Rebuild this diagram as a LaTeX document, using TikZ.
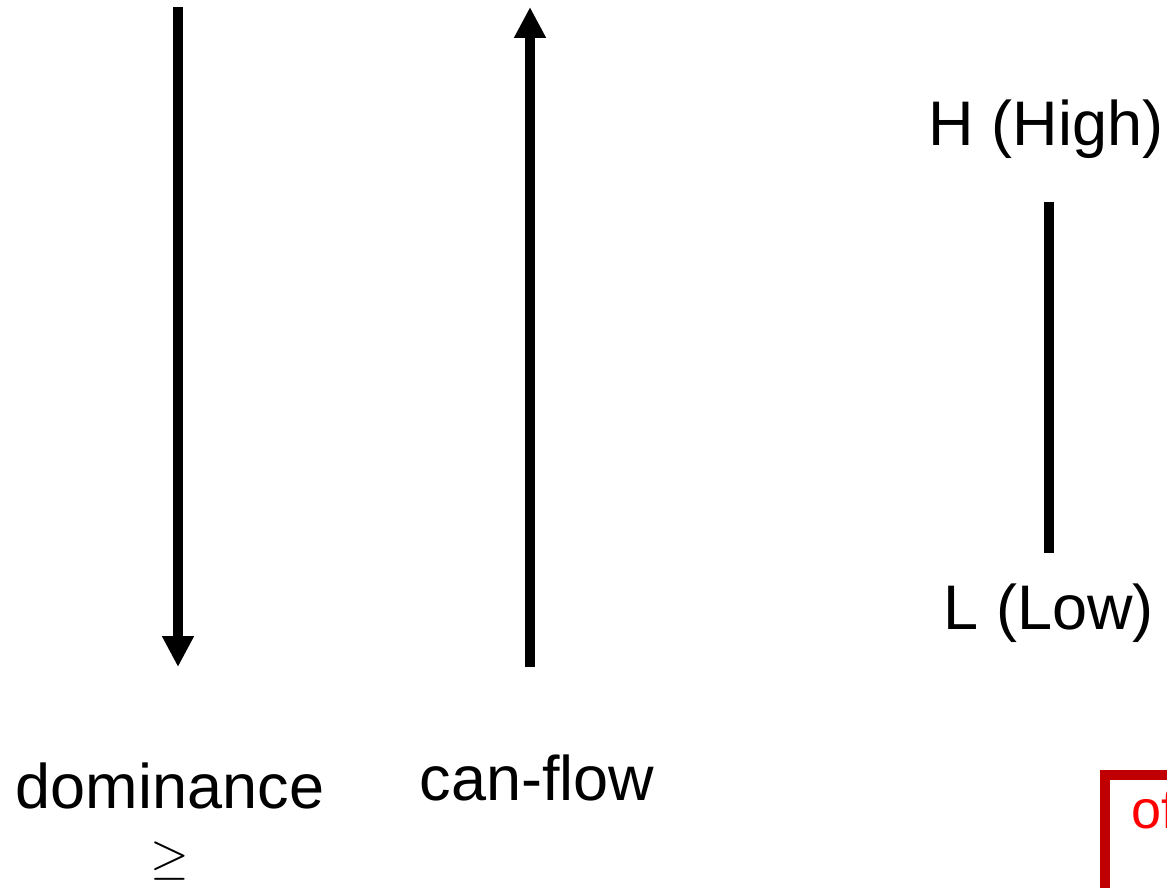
\documentclass[tikz,border=0pt]{standalone}
\usepackage{fontspec}
\setmainfont{Liberation Sans}
\usepackage{tikz}
\usetikzlibrary{arrows.meta, positioning}

\definecolor{boxred}{RGB}{192,0,0}
\definecolor{textred}{RGB}{255,0,0}

\begin{document}
\begin{tikzpicture}[
    x=0.5pt, y=-0.5pt,
    label/.style={inner sep=0pt, anchor=base, font=\fontsize{31.5}{36}\selectfont},
    note/.style={inner sep=0pt, anchor=base west, text=textred, font=\fontsize{27}{32}\selectfont},
    arrow/.style={-{Triangle[length=15.5pt, width=15pt]}, line width=5pt},
    bar/.style={line width=5pt},
    frame/.style={draw=boxred, line width=5pt},
]
    \useasboundingbox (0,0) rectangle (1167,888);
    \clip (0,0) rectangle (1167,888);

    % Nodes
    \node[label] (dominance) at (170,808) {dominance};
    \node[label, font=\fontsize{24}{28}\selectfont] (geq) at (170,873) {$\geq$};
    \node[label] (canflow) at (537,800) {can-flow};
    \node[label] (high) at (1046,146) {H (High)};
    \node[label] (low) at (1049,629) {L (Low)};

    % Arrow ends
    \coordinate (domtop) at (178,7);
    \coordinate (domtip) at (178,667);
    \coordinate (flowbot) at (530,667);
    \coordinate (flowtip) at (530,7);
    \coordinate (hitop) at (1049,202);
    \coordinate (lobot) at (1049,553);

    % Arrows
    \draw[arrow] (domtop) -- (domtip);
    \draw[arrow] (flowbot) -- (flowtip);
    \draw[bar] (hitop) -- (lobot);

    % Red note (cut at the edge)
    \draw[frame] (1105,775) rectangle (1260,960);
    \node[note] (offnote) at (1131,828) {of};
\end{tikzpicture}
\end{document}
